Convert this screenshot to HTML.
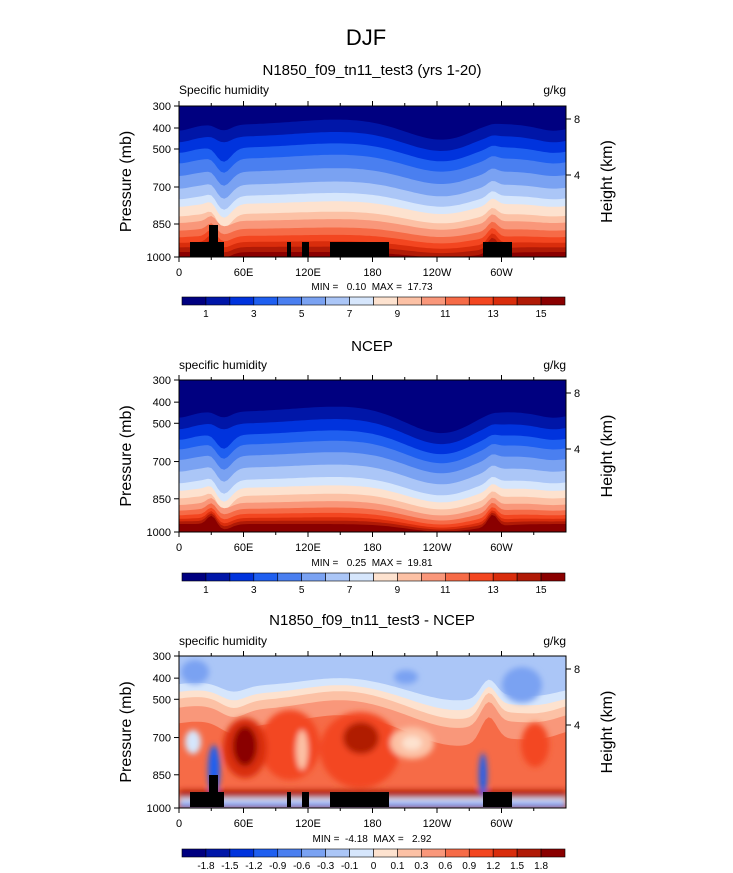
<!DOCTYPE html><html><head><meta charset="utf-8"><style>
body{margin:0;background:#fff;}svg{display:block}
text{font-family:"Liberation Sans",Arial,sans-serif;fill:#000;white-space:pre}
</style></head><body>
<svg id="s" width="733" height="873" viewBox="0 0 733 873" xmlns="http://www.w3.org/2000/svg" xml:space="preserve"></svg>
<script>
var C=["#000080","#0016A8","#0033DD","#1F5FF0","#4A7FF0","#7AA2F2","#ABC6F7","#D6E6FC","#FDE2CF","#FCC1A5","#F9977A","#F66B47","#F34620","#D92D0C","#B01A06","#8A0000"];
var X0=179,X1=566,W=X1-X0;
var out=[];
function g(t,c,w){return Math.exp(-Math.pow((t-c)/w,2)/2);}
function prof(t,k,dip){
  var u=(15-k)/15;
  var d=0;
  d+= 9*dip*g(t,0.68,0.09)*(0.5+u);
  d+= -6*g(t,0.42,0.12)*u;
  d+= 14*g(t,0.115,0.02)*(k>2&&k<10?1:0.4);
  d+= -10*g(t,0.085,0.012)*(1-u);
  d+= -12*g(t,0.81,0.012)*(1-u)+ -6*g(t,0.80,0.05)*u;
  d+= 6*g(t,0.97,0.04)*u + 6*g(t,0,0.03)*u;
  return d;
}
function panel(Y0,base,dip){
  out.push('<rect x="'+X0+'" y="'+Y0+'" width="'+W+'" height="152" fill="'+C[0]+'"/>');
  for(var k=1;k<16;k++){
    var p='M'+X0+','+(Y0+152);
    for(var i=0;i<=120;i++){var t=i/120;var y=Y0+base[k]+prof(t,k,dip);y=Math.min(y,Y0+151);p+=' L'+(X0+t*W).toFixed(1)+','+y.toFixed(1);}
    p+=' L'+X1+','+(Y0+152)+'Z';
    out.push('<path d="'+p+'" fill="'+C[k]+'"/>');
  }
}
var clip='<clipPath id="c1"><rect x="179" y="106" width="387" height="151"/></clipPath><clipPath id="c2"><rect x="179" y="380" width="387" height="152"/></clipPath><clipPath id="c3"><rect x="179" y="656" width="387" height="152"/></clipPath>';
out.push('<defs>'+clip+'<filter id="bl"><feGaussianBlur stdDeviation="3"/></filter></defs>');
out.push('<g clip-path="url(#c1)">');
panel(106,[0,19,31,42,53,66,79,90,98,108,115,123,130,136,141,146],1.2);
out.push('</g><g clip-path="url(#c2)">');
panel(380,[0,32,44,55,65,76,88,100,108,116,123,129,134,138,141,144],1.7);
out.push('</g>');
// panel 3
out.push('<g clip-path="url(#c3)"><rect x="179" y="656" width="387" height="152" fill="#ABC6F7"/>');
function p3(base,amp){
  var p='M'+X0+',810';
  for(var i=0;i<=120;i++){var t=i/120;
   var d=amp*(-4*g(t,0.05,0.05)+18*g(t,0.72,0.1)-10*g(t,0.42,0.1)+10*g(t,0.93,0.06)-22*g(t,0.8,0.02)+8*g(t,0.14,0.03));
   p+=' L'+(X0+t*W).toFixed(1)+','+(656+base+d).toFixed(1);}
  return p+' L'+X1+',810Z';
}
out.push('<path d="'+p3(30,0.8)+'" fill="#D6E6FC"/>');
out.push('<path d="'+p3(38,0.9)+'" fill="#FDE2CF"/>');
out.push('<path d="'+p3(45,1)+'" fill="#FCC1A5"/>');
out.push('<path d="'+p3(54,1)+'" fill="#F9977A"/>');
out.push('<path d="'+p3(70,1.1)+'" fill="#F66B47"/>');
out.push('<g filter="url(#bl)">');
out.push('<ellipse cx="290" cy="745" rx="30" ry="35" fill="#F34620"/><ellipse cx="360" cy="750" rx="40" ry="38" fill="#F34620"/><ellipse cx="245" cy="748" rx="22" ry="30" fill="#D92D0C"/><ellipse cx="245" cy="746" rx="12" ry="20" fill="#8A0000"/>');
out.push('<ellipse cx="361" cy="738" rx="18" ry="16" fill="#B01A06"/><ellipse cx="412" cy="743" rx="22" ry="16" fill="#FCC1A5"/><ellipse cx="412" cy="743" rx="10" ry="7" fill="#FDE2CF"/>');
out.push('<ellipse cx="302" cy="750" rx="6" ry="20" fill="#FCC1A5"/><ellipse cx="535" cy="745" rx="14" ry="22" fill="#F34620"/><ellipse cx="193" cy="742" rx="8" ry="12" fill="#D6E6FC"/>');
out.push('<ellipse cx="522" cy="685" rx="20" ry="18" fill="#7AA2F2"/><ellipse cx="406" cy="677" rx="12" ry="7" fill="#7AA2F2"/><ellipse cx="195" cy="672" rx="14" ry="12" fill="#7AA2F2"/>');
out.push('<rect x="179" y="790" width="387" height="10" fill="#B01A06"/><rect x="179" y="798" width="387" height="10" fill="#D6E6FC"/><rect x="179" y="803" width="387" height="5" fill="#4A7FF0"/>');
out.push('<ellipse cx="214" cy="770" rx="6" ry="25" fill="#1F5FF0"/><ellipse cx="483" cy="775" rx="4" ry="22" fill="#1F5FF0"/>');
out.push('</g></g>');
[106,656].forEach(function(Y){var o=Y-106;
 [[190,242,224,257],[209,225,218,242],[287,242,291,257],[302,242,309,257],[330,242,389,257],[483,242,512,257]].forEach(function(b){
 out.push('<rect x="'+b[0]+'" y="'+(b[1]+o)+'" width="'+(b[2]-b[0])+'" height="'+(b[3]-b[1])+'" fill="#000"/>');});});
function axes(Y0,H){
 out.push('<rect x="'+X0+'" y="'+Y0+'" width="'+W+'" height="'+H+'" fill="none" stroke="#000" stroke-width="1"/>');
 var pr=[[300,0],[400,22],[500,43],[700,81],[850,118],[1000,151]];
 pr.forEach(function(p){var y=Y0+p[1]*H/151;out.push('<line x1="'+(X0-5)+'" x2="'+X0+'" y1="'+y+'" y2="'+y+'" stroke="#000"/><text x="'+(X0-8)+'" y="'+(y+4)+'" font-size="11" text-anchor="end">'+p[0]+'</text>');});
 [[8,13],[4,69]].forEach(function(h){var y=Y0+h[1];out.push('<line x1="'+X1+'" x2="'+(X1+5)+'" y1="'+y+'" y2="'+y+'" stroke="#000"/><text x="'+(X1+8)+'" y="'+(y+4)+'" font-size="11">'+h[0]+'</text>');});
 var lab=["0","60E","120E","180","120W","60W"];
 for(var i=0;i<12;i++){var x=X0+i*W/12;var l=i%2==0?5:3;
  out.push('<line x1="'+x+'" x2="'+x+'" y1="'+(Y0+H)+'" y2="'+(Y0+H+l)+'" stroke="#000"/><line x1="'+x+'" x2="'+x+'" y1="'+Y0+'" y2="'+(Y0-l)+'" stroke="#000"/>');
  if(i%2==0)out.push('<text x="'+x+'" y="'+(Y0+H+19)+'" font-size="11" text-anchor="middle">'+lab[i/2]+'</text>');}
 out.push('<text transform="translate(131,'+(Y0+H/2)+') rotate(-90)" font-size="16" text-anchor="middle">Pressure (mb)</text>');
 out.push('<text transform="translate(612,'+(Y0+H/2)+') rotate(-90)" font-size="16" text-anchor="middle">Height (km)</text>');
}
axes(106,151);axes(380,152);axes(656,152);
function cbar(Y,labs){
 var bw=383/16;
 for(var i=0;i<16;i++)out.push('<rect x="'+(182+i*bw)+'" y="'+Y+'" width="'+bw+'" height="8" fill="'+C[i]+'" stroke="#000" stroke-width="0.6"/>');
 labs.forEach(function(l,j){if(l!==null)out.push('<text x="'+(182+(j+1)*bw)+'" y="'+(Y+20)+'" font-size="10" text-anchor="middle">'+l+'</text>');});
}
cbar(297,["1",null,"3",null,"5",null,"7",null,"9",null,"11",null,"13",null,"15"]);
cbar(573,["1",null,"3",null,"5",null,"7",null,"9",null,"11",null,"13",null,"15"]);
cbar(849,["-1.8","-1.5","-1.2","-0.9","-0.6","-0.3","-0.1","0","0.1","0.3","0.6","0.9","1.2","1.5","1.8"]);
function t(x,y,s,str,a){out.push('<text x="'+x+'" y="'+y+'" font-size="'+s+'" text-anchor="'+(a||'start')+'">'+str+'</text>');}
t(366,45,22,"DJF","middle");
t(372,75,15,"N1850_f09_tn11_test3 (yrs 1-20)","middle");
t(179,94,12,"Specific humidity");t(566,94,12,"g/kg","end");
t(372,290,10,"MIN =   0.10  MAX =  17.73","middle");
t(372,351,15,"NCEP","middle");
t(179,369,12,"specific humidity");t(566,369,12,"g/kg","end");
t(372,566,10,"MIN =   0.25  MAX =  19.81","middle");
t(372,625,15,"N1850_f09_tn11_test3 - NCEP","middle");
t(179,645,12,"specific humidity");t(566,645,12,"g/kg","end");
t(372,842,10,"MIN =  -4.18  MAX =   2.92","middle");
document.getElementById('s').innerHTML=out.join('');
</script></body></html>
